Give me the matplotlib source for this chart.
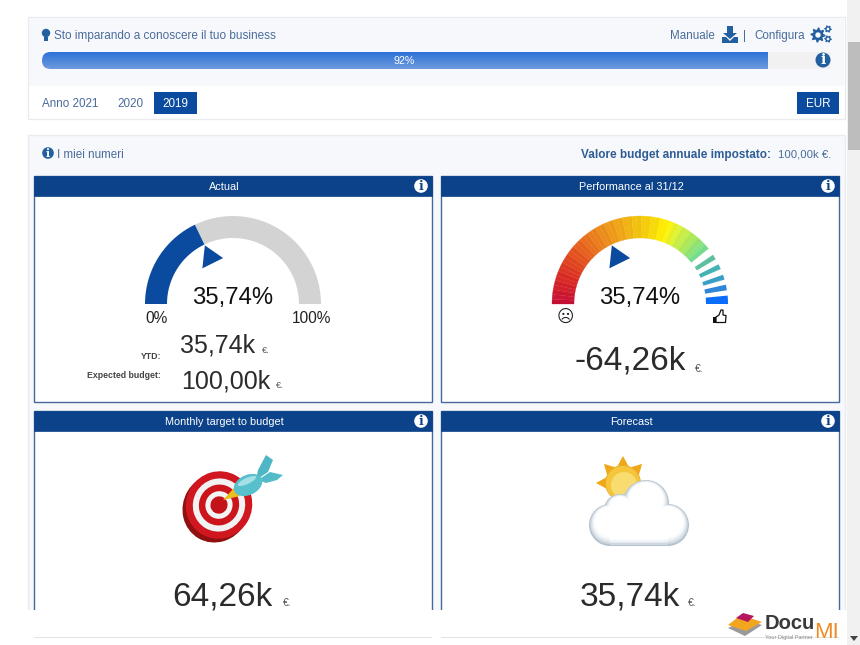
import numpy as np
import matplotlib
matplotlib.use("Agg")
import matplotlib.pyplot as plt
from matplotlib.colors import LinearSegmentedColormap, to_rgb
from matplotlib.patches import Circle, Ellipse, FancyBboxPatch, Polygon, Rectangle

plt.rcParams["font.family"] = ["Liberation Sans", "DejaVu Sans"]

# values shown on the dashboard
progress_pct = 92
gauge_pct = 35.74
tabs = ["Anno 2021", "2020", "2019"]
currency = "EUR"
budget_label = "Valore budget annuale impostato:"
budget_value = "100,00k €."
card_titles = ["Actual", "Performance al 31/12", "Monthly target to budget", "Forecast"]
ytd_value = "35,74k"
expected_value = "100,00k"
performance_value = "-64,26k"
target_value = "64,26k"
forecast_value = "35,74k"

# performance gauge: solid part is cut in slices, then separate bars (degrees from the right)
gauge_slices = 45
gauge_solid_end = 39
gauge_colors = ["#c40f35", "#d62a22", "#e2561c", "#e8841a", "#eca414", "#f0c20c",
                "#f4d604", "#ffef00", "#d4ee3a", "#a4e45c", "#74dc8c"]
gauge_stops = [0, 0.13, 0.28, 0.42, 0.54, 0.64, 0.72, 0.78, 0.85, 0.93, 1]
bar_from = [0, 9.0, 16.1, 23.4, 30.6]
bar_to = [5.5, 12.7, 19.4, 26.8, 34.0]
bar_colors = ["#0b6dfb", "#2f86d6", "#399fc6", "#45b2b4", "#5fc0a0"]

BLUE = "#0b4289"
BUTTON = "#0a4a9f"
TEXT = "#4a6c9a"
ICON = "#23609f"
DARK = "#2b2b2b"
PANEL = "#f7f8fb"
EDGE = "#e9ebef"

fig = plt.figure(figsize=(8.6, 6.45), dpi=100)
ax = fig.add_axes([0, 0, 1, 1])


def rect(x0, y0, x1, y1, color, edge="none", lw=0, z=2):
    ax.add_patch(Rectangle((x0, y0), x1 - x0, y1 - y0, fc=color, ec=edge, lw=lw, zorder=z))


def label(x, y, s, size, color=TEXT, ha="left", weight="normal", **kw):
    # y is the middle of the capitals, so place the text by its baseline
    base = y + size * 100 / 72 * 0.36
    ax.text(x, base, s, fontsize=size, color=color, ha=ha, va="baseline", fontweight=weight, zorder=6, **kw)


def ring(cx, cy, r0, r1, a0, a1, color, edge="none", lw=0, z=3):
    # a0, a1 in degrees, counter clockwise from the right like a normal gauge
    t = np.radians(np.linspace(a0, a1, 30))
    xs = np.r_[cx + r1 * np.cos(t), cx + r0 * np.cos(t[::-1])]
    ys = np.r_[cy - r1 * np.sin(t), cy - r0 * np.sin(t[::-1])]
    ax.add_patch(Polygon(np.c_[xs, ys], fc=color, ec=edge, lw=lw, zorder=z))


def pointer(cx, cy, pct):
    a = 180 - pct * 1.8
    rs = [65, 47, 47]
    angs = np.radians([a, a - 13.5, a + 15])
    pts = np.c_[cx + np.array(rs) * np.cos(angs), cy - np.array(rs) * np.sin(angs)]
    ax.add_patch(Polygon(pts, fc=BUTTON, ec="none", zorder=4))


def info(x, y, r=7.5, bg=ICON, fg="white"):
    ax.add_patch(Circle((x, y), r, fc=bg, ec="none", zorder=5))
    ax.text(x, y + 0.3, "i", fontsize=r * 1.35, color=fg, ha="center", va="center",
            fontweight="bold", family="DejaVu Serif", zorder=6)


def gear(x, y, r, teeth=8):
    t = np.linspace(0, 2 * np.pi, teeth * 4, endpoint=False)
    rad = np.where(np.arange(teeth * 4) % 4 < 2, r, r * 0.72)
    ax.add_patch(Polygon(np.c_[x + rad * np.cos(t), y + rad * np.sin(t)], fc=ICON, ec="none", zorder=5))
    ax.add_patch(Circle((x, y), r * 0.36, fc=PANEL, ec="none", zorder=6))


def euro(x, y, size=6.5):
    label(x, y, "€.", size, color="#555555")


# page
rect(847, 0, 860, 645, "#f1f1f1")
rect(848, 42, 860, 150, "#bdbdbd")
ax.add_patch(Polygon([(850, 636), (858, 636), (854, 641)], fc="#444444", ec="none", zorder=3))

# top panel
rect(28, 17, 845, 119, "white", EDGE, 1)
rect(29, 18, 844, 86, PANEL)
ax.add_patch(Circle((46, 33), 4.2, fc=ICON, ec="none", zorder=5))
rect(44, 37, 48, 41, ICON, z=5)
label(54, 35, "Sto imparando a conoscere il tuo business", 8.45)
label(670, 35, "Manuale", 8.4)
ax.add_patch(Polygon([(727, 26), (733, 26), (733, 33), (737, 33), (730, 39), (723, 33), (727, 33)],
                     fc=ICON, ec="none", zorder=5))
ax.add_patch(Polygon([(722, 37), (726, 37), (730, 41), (734, 37), (738, 37), (738, 43), (722, 43)],
                     fc=ICON, ec="none", zorder=5))
label(745, 35, "|", 8.4, ha="center")
label(754, 35, "Configura", 8.4)
gear(818, 35, 7.5)
gear(828, 29, 3.8, 6)
gear(828, 39, 3.8, 6)

# progress bar
bar_x0, bar_x1 = 42, 831
fill_x = bar_x0 + (bar_x1 - bar_x0) * progress_pct / 100
rect(fill_x - 2, 52, bar_x1, 69, "#f1f1f1")
top_c, bottom_c = np.array(to_rgb("#2c72d8")), np.array(to_rgb("#6f9bdd"))
grad = np.linspace(0, 1, 32)[:, None, None] * (bottom_c - top_c) + top_c
im = ax.imshow(grad, extent=(bar_x0, fill_x, 69, 52), aspect="auto", zorder=3)
im.set_clip_path(FancyBboxPatch((bar_x0, 52), fill_x - bar_x0 + 20, 17,
                                boxstyle="round,pad=0,rounding_size=8.5", transform=ax.transData))
label(404, 60.5, f"{progress_pct}%", 7.7, color="white", ha="center")
info(823, 60)

# tabs
label(42, 103, tabs[0], 8.4)
label(117, 103, tabs[1], 8.4)
rect(154, 92, 197, 114, BUTTON)
label(175.5, 103, tabs[2], 8.4, color="white", ha="center")
rect(797, 92, 839, 114, BUTTON)
label(818, 103, currency, 8.4, color="white", ha="center")

# main panel
rect(28, 135, 845, 612, PANEL, EDGE, 1)
info(48, 153, 5.8)
label(57, 153.5, "I miei numeri", 8.4)
label(771, 153.5, budget_label, 8.5, ha="right", weight="bold", color="#2f5d96")
label(778, 153.5, budget_value, 8.2)

# cards
card_x = [(34, 432), (441, 839), (34, 432), (441, 839)]
card_y = [(176, 402), (176, 402), (411, 625), (411, 625)]
for (x0, x1), (y0, y1), title in zip(card_x, card_y, card_titles):
    rect(x0, y0, x1, y1, "white", "#44699a", 1)
    rect(x0, y0, x1, y0 + 20, BLUE, BLUE, 0.5)
    label((x0 + x1) / 2 - 9, y0 + 10.5, title, 7.85, color="white", ha="center")
    info(x1 - 11, y0 + 10, 6.8, bg="white", fg=BLUE)
# cards are cut by the white band at the bottom
rect(0, 610, 847, 645, "white", z=3)
rect(34, 636.5, 432, 637.5, "#dfe4e8", z=3)
rect(441, 636.5, 839, 637.5, "#dfe4e8", z=3)

# actual gauge
cx1, cy = 233, 304
split = 180 - gauge_pct * 1.8
ring(cx1, cy, 66, 88, 0, split, "#d3d3d3")
ring(cx1, cy, 66, 88, split, 180, BUTTON)
pointer(cx1, cy, gauge_pct)
label(cx1, 295, f"{gauge_pct:.2f}%".replace(".", ","), 17.2, color="#111111", ha="center")
label(157, 317, "0%", 11.2, color="#222222", ha="center")
label(311.5, 317, "100%", 11.2, color="#222222", ha="center")
label(161, 356, "YTD:", 6.3, color="#444444", ha="right", weight="bold")
label(161, 375, "Expected budget:", 6.3, color="#444444", ha="right", weight="bold")
label(180, 344, ytd_value, 18, color=DARK)
euro(262, 350)
label(181, 380, expected_value, 18, color=DARK)
euro(276, 385)

# performance gauge
cx2 = 640
cmap = LinearSegmentedColormap.from_list("perf", list(zip(gauge_stops, gauge_colors)))
edges = np.linspace(180, gauge_solid_end, gauge_slices + 1)
for i in range(gauge_slices):
    c = np.array(to_rgb(cmap(i / (gauge_slices - 1))))
    if i % 2:
        c = np.minimum(c * 1.01 + 0.012, 1)
    ring(cx2, cy, 66, 88, edges[i + 1], edges[i], c, edge=c, lw=0.2)
for a0, a1, c in zip(bar_from, bar_to, bar_colors):
    ring(cx2, cy, 66, 88, a0, a1, c)
pointer(cx2, cy, gauge_pct)
label(cx2, 295, f"{gauge_pct:.2f}%".replace(".", ","), 17.2, color="#111111", ha="center")
ax.text(565, 317, "☹", fontsize=12, color="#222222", ha="center", va="center", family="DejaVu Sans", zorder=6)
# thumb icon
rect(712.5, 317, 716, 323, "#111111", z=5)
ax.add_patch(Polygon([(716, 317), (719, 315), (721, 310), (723, 310), (723, 315), (726, 315.5),
                      (725.5, 322.5), (716, 322.5)], fc="white", ec="#111111", lw=0.9, zorder=5))
label(574, 358, performance_value, 24, color=DARK)
euro(695, 368, 7.5)

# target icon
tx, ty = 218, 505
ax.add_patch(Ellipse((tx - 2, ty + 3), 66, 70, angle=30, fc="#8e1010", ec="none", zorder=4))
for w, c in zip([66, 52, 40, 27, 17], ["#d0161e", "#f2f2f2", "#cc141c", "#f4f4f4", "#c4121a"]):
    ax.add_patch(Ellipse((tx + 1, ty), w, w * 1.03, angle=30, fc=c, ec="none", zorder=4))
# dart
ax.add_patch(Polygon([(223, 500), (234, 488), (240, 496)], fc="#e8c020", ec="none", zorder=5))
ax.add_patch(Polygon([(256, 480), (258, 470), (266, 455), (273, 460), (268, 472)],
                     fc="#4fb6c6", ec="none", zorder=5))
ax.add_patch(Polygon([(258, 480), (270, 472), (283, 475), (277, 480), (266, 483)],
                     fc="#53bac9", ec="none", zorder=5))
ax.add_patch(Ellipse((248, 485), 30, 20, angle=-25, fc="#58bfcc", ec="none", zorder=5))
ax.add_patch(Ellipse((247, 481), 20, 6, angle=-25, fc="#a5e0e6", ec="none", zorder=5))
label(222, 594, target_value, 24, color=DARK, ha="center")
euro(283, 602, 7.5)

# sun and cloud icon
sx, sy = 623, 483
for a in [90, 45, 135, 180]:
    t = np.radians(a)
    tip = (sx + 27 * np.cos(t), sy - 27 * np.sin(t))
    b = 6
    p0 = (sx + 16 * np.cos(t) - b * np.sin(t), sy - 16 * np.sin(t) - b * np.cos(t))
    p1 = (sx + 16 * np.cos(t) + b * np.sin(t), sy - 16 * np.sin(t) + b * np.cos(t))
    ax.add_patch(Polygon([tip, p0, p1], fc="#f0a818", ec="none", zorder=4))
ax.add_patch(Circle((sx, sy), 17.5, fc="#f5c63c", ec="#e8aa30", lw=0.6, zorder=4))
ax.add_patch(Circle((sx + 1, sy + 2), 13, fc="#f9dc70", ec="none", zorder=4))
# cloud: same shape in shrinking layers gives the soft shading
lumps = [(646, 503, 23), (620, 510, 16), (610, 525, 21), (668, 525, 21), (640, 522, 22)]
for k, c in enumerate(["#b4c2ce", "#cfd8e0", "#e2e8ed", "#f1f4f6", "#fbfcfd", "#ffffff"]):
    shrink = k * 1.2
    up = k * 0.7
    for lx, ly, lr in lumps:
        ax.add_patch(Circle((lx, ly - up), max(lr - shrink, 1), fc=c, ec="none", zorder=5 + k * 0.01))
    rect(610, 525 - up, 668, 546 - shrink - up * 0.4, c, z=5 + k * 0.01)
label(630, 594, forecast_value, 24, color=DARK, ha="center")
euro(688, 602, 7.5)

# logo
ax.add_patch(Polygon([(728, 628), (745, 620), (762, 625), (745, 636)], fc="#9a9a9a", ec="none", zorder=7))
ax.add_patch(Polygon([(728, 625), (741, 615), (762, 622), (746, 631)], fc="#f2a51e", ec="none", zorder=7))
ax.add_patch(Polygon([(736, 618), (743, 613), (754, 616), (748, 622)], fc="#b5175e", ec="none", zorder=7))
label(765, 622, "Docu", 14.5, color="#3a3a3a", weight="bold")
label(814, 630, "MI", 16, color="#f08a24")
label(765, 636.5, "Your Digital Partner", 4, color="#888888")

ax.set_xlim(0, 860)
ax.set_ylim(645, 0)
ax.axis("off")
fig.savefig("out.png", dpi=100)
